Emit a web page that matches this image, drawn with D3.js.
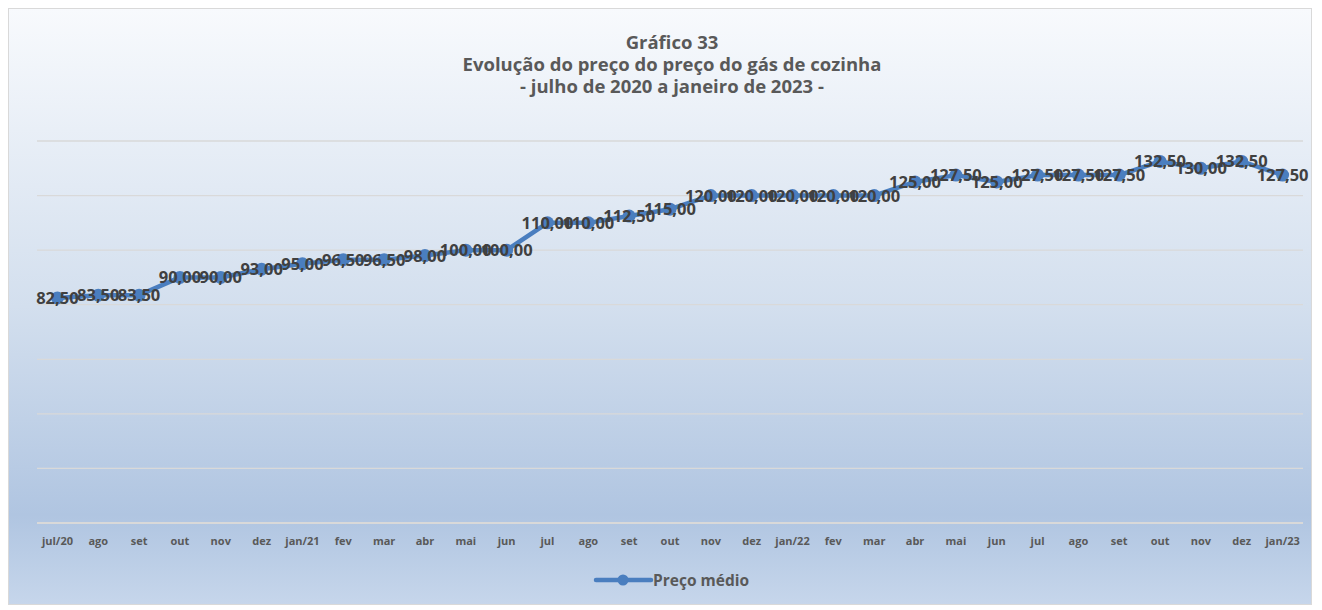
<!DOCTYPE html>
<html><head><meta charset="utf-8">
<script src="https://cdn.jsdelivr.net/npm/d3@7"></script>
<style>html,body{margin:0;padding:0;background:#fff}</style>
</head><body>
<svg id="c" width="1322" height="610"></svg>
<script>
const months = ["jul/20","ago","set","out","nov","dez","jan/21","fev","mar","abr","mai","jun","jul","ago","set","out","nov","dez","jan/22","fev","mar","abr","mai","jun","jul","ago","set","out","nov","dez","jan/23"];
const precoMedio = [82.5,83.5,83.5,90,90,93,95,96.5,96.5,98,100,100,110,110,112.5,115,120,120,120,120,120,125,127.5,125,127.5,127.5,127.5,132.5,130,132.5,127.5];
const yTicks = [0,20,40,60,80,100,120,140];
const titleLines = ["Gráfico 33","Evolução do preço do preço do gás de cozinha","- julho de 2020 a janeiro de 2023 -"];
const seriesName = "Preço médio";

const svg = d3.select("#c");
const defs = svg.append("defs");
const g = defs.append("linearGradient").attr("id","bg").attr("x1",0).attr("y1",0).attr("x2",0).attr("y2",1);
g.append("stop").attr("offset","0%").attr("stop-color","#f8fafd");
g.append("stop").attr("offset","50%").attr("stop-color","#d3dfee");
g.append("stop").attr("offset","85%").attr("stop-color","#b0c5e1");
g.append("stop").attr("offset","100%").attr("stop-color","#c6d6eb");

svg.append("rect").attr("x",8.5).attr("y",8.5).attr("width",1303).attr("height",596)
  .attr("fill","url(#bg)").attr("stroke","#d9d9d9").attr("stroke-width",1);

const x = d3.scaleBand().domain(d3.range(months.length)).range([37,1303]);
const y = d3.scaleLinear().domain([0,140]).range([523,141]);

svg.append("g").selectAll("line").data(yTicks).join("line")
  .attr("x1",37).attr("x2",1303).attr("y1",d=>y(d)).attr("y2",d=>y(d))
  .attr("stroke","#d9d9d9").attr("stroke-width",d=>d===0?2:1.3);

const xAxis = d3.axisBottom(x).tickSize(0).tickFormat(i=>months[i]);
const ax = svg.append("g").attr("transform","translate(0,523)").call(xAxis);
ax.select(".domain").remove();
ax.selectAll("text").attr("dy",0).attr("y",22)
  .style("font-family","'Open Sans',sans-serif").style("font-size","11px").style("font-weight","700").attr("fill","#595959");

svg.append("g").selectAll("text").data(titleLines).join("text")
  .attr("x",672).attr("y",(d,i)=>49+i*22).attr("text-anchor","middle")
  .style("font-family","'Open Sans',sans-serif").style("font-size","18.5px").style("font-weight","700")
  .attr("fill","#595959").text(d=>d);

const blue = "#4a7ebf";
const line = d3.line().x((d,i)=>x(i)+x.bandwidth()/2).y(d=>y(d));
svg.append("path").datum(precoMedio).attr("d",line).attr("fill","none")
  .attr("stroke",blue).attr("stroke-width",4.5).attr("stroke-linejoin","round");
svg.append("g").selectAll("circle").data(precoMedio).join("circle")
  .attr("cx",(d,i)=>x(i)+x.bandwidth()/2).attr("cy",d=>y(d)).attr("r",6.5).attr("fill",blue);

const fmt = v => v.toFixed(2).replace(".",",");
svg.append("g").selectAll("text").data(precoMedio).join("text")
  .attr("x",(d,i)=>x(i)+x.bandwidth()/2).attr("y",d=>y(d)).attr("dy","0.36em")
  .attr("text-anchor","middle")
  .style("font-family","'Open Sans',sans-serif").style("font-size","16.5px").style("font-weight","700")
  .attr("fill","#404040").text(fmt);

const lg = svg.append("g");
lg.append("line").attr("x1",596).attr("x2",651).attr("y1",580).attr("y2",580).attr("stroke",blue).attr("stroke-width",4.5).attr("stroke-linecap","round");
lg.append("circle").attr("cx",623).attr("cy",580).attr("r",5.5).attr("fill",blue);
lg.append("text").attr("x",653).attr("y",585.5).text(seriesName)
  .style("font-family","'Open Sans',sans-serif").style("font-size","15.5px").style("font-weight","700").attr("fill","#595959");
</script>
</body></html>
